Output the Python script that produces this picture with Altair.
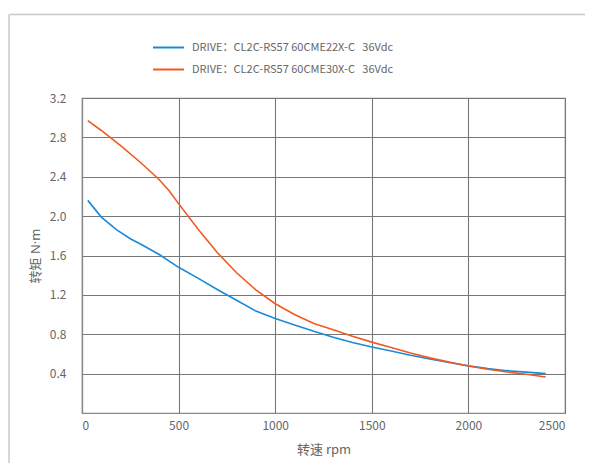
import altair as alt
import pandas as pd

speed_22x = [30, 100, 180, 250, 300, 400, 500, 600, 700, 800, 900, 1000, 1100, 1200, 1300,
             1400, 1500, 1600, 1700, 1800, 1900, 2000, 2100, 2200, 2300, 2400]
torque_22x = [2.16, 1.99, 1.86, 1.77, 1.72, 1.61, 1.48, 1.37, 1.255, 1.145, 1.035, 0.96, 0.895,
              0.83, 0.77, 0.717, 0.67, 0.629, 0.586, 0.549, 0.513, 0.479, 0.452, 0.43, 0.415, 0.40]

speed_30x = [30, 100, 200, 300, 395, 450, 500, 600, 700, 800, 900, 1000, 1100, 1200, 1300,
             1400, 1500, 1600, 1700, 1800, 1900, 2000, 2100, 2200, 2300, 2400]
torque_30x = [2.97, 2.87, 2.715, 2.55, 2.38, 2.26, 2.127, 1.87, 1.63, 1.425, 1.25, 1.11, 1.0,
              0.91, 0.845, 0.78, 0.72, 0.666, 0.61, 0.56, 0.518, 0.478, 0.445, 0.417, 0.393, 0.366]

series_names = ["DRIVE：CL2C-RS57 60CME22X-C\u00a0\u00a0\u00a036Vdc",
                "DRIVE：CL2C-RS57 60CME30X-C\u00a0\u00a0\u00a036Vdc"]
series_colors = ["#1a8ad8", "#f05a22"]

x_ticks = [0, 500, 1000, 1500, 2000, 2500]
y_ticks = [0.4, 0.8, 1.2, 1.6, 2.0, 2.4, 2.8, 3.2]

rows = []
for i, (s, t) in enumerate(zip(speed_22x, torque_22x)):
    rows.append({"series": series_names[0], "speed": s, "torque": t, "order": i})
for i, (s, t) in enumerate(zip(speed_30x, torque_30x)):
    rows.append({"series": series_names[1], "speed": s, "torque": t, "order": i})
df = pd.DataFrame(rows)

FONT = "Noto Sans CJK SC"
LATIN_FIRST = "Noto Sans, Noto Sans CJK SC"
GRAY = "#666666"

lines = alt.Chart(df).mark_line(strokeWidth=1.6, clip=False).encode(
    x=alt.X("speed:Q", scale=alt.Scale(domain=[0, 2500], nice=False),
            axis=alt.Axis(values=x_ticks, title="转速 rpm", format="d")),
    y=alt.Y("torque:Q", scale=alt.Scale(domain=[0, 3.2], nice=False),
            axis=alt.Axis(values=y_ticks, title="转矩 N·m", format=".1f",
                          titleFont=LATIN_FIRST)),
    color=alt.Color("series:N",
                    scale=alt.Scale(domain=series_names, range=series_colors),
                    legend=alt.Legend(orient="none", legendX=70, legendY=-67, title=None,
                                      symbolType="stroke", symbolSize=961, symbolStrokeWidth=2,
                                      labelFontSize=11, labelColor=GRAY, labelFont=FONT,
                                      labelOffset=7, rowPadding=-9, padding=0,
                                      labelLimit=400)),
    order="order:Q",
)

frame_top = alt.Chart(pd.DataFrame({"a": [0]})).mark_rule(color="#c8c8c8", strokeWidth=1.5).encode(
    x=alt.value(-73), x2=alt.value(520), y=alt.value(-83.5))
frame_left = alt.Chart(pd.DataFrame({"a": [0]})).mark_rule(color="#c8c8c8", strokeWidth=1.5).encode(
    x=alt.value(-73), y=alt.value(-83.5), y2=alt.value(380))

chart = alt.layer(frame_top, frame_left, lines).properties(
    width=483, height=315,
    autosize=alt.AutoSizeParams(type="none"),
    padding={"left": 74, "top": 90, "right": 20, "bottom": 50},
).configure_view(
    stroke="#888888", strokeWidth=1.2
).configure_axis(
    grid=True, gridColor="#777777", gridWidth=1.1,
    domainColor="#888888", domainWidth=1.2,
    ticks=False,
    labelFont=FONT, labelFontSize=12, labelColor=GRAY,
    titleFont=FONT, titleFontSize=13, titleColor=GRAY, titleFontWeight="normal",
).configure_axisX(
    labelPadding=7, titlePadding=12
).configure_axisY(
    labelPadding=16, titlePadding=7
)

chart.save("out.html", embed_options={"renderer": "svg", "actions": False})
